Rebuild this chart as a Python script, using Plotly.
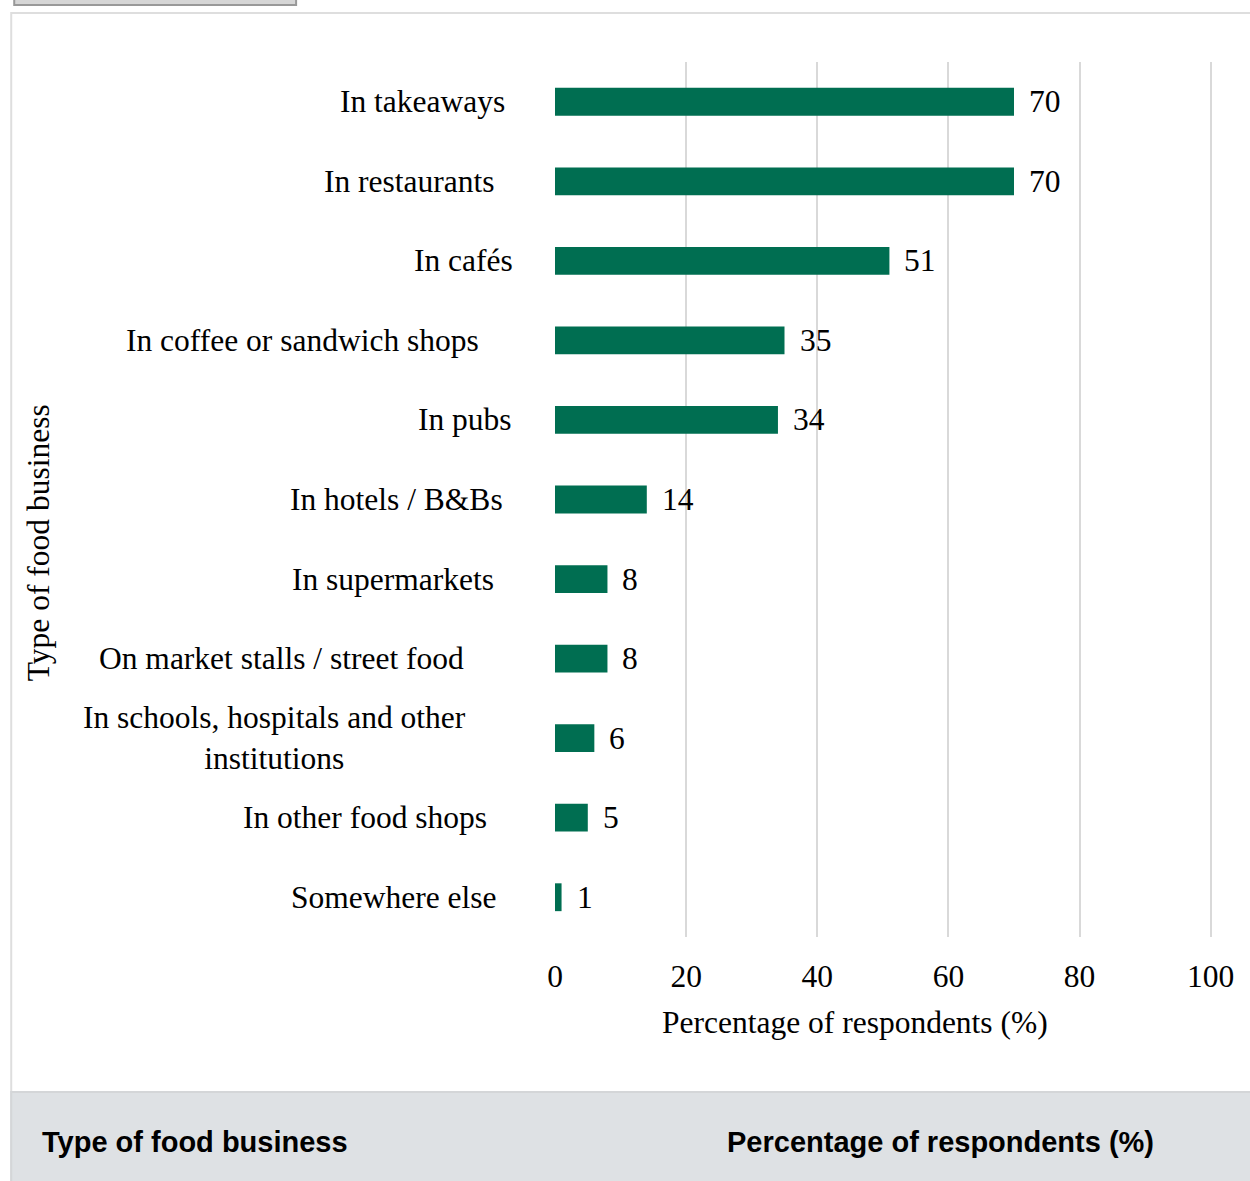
import plotly.graph_objects as go

# Survey results: where respondents bought food
categories = [
    "In takeaways",
    "In restaurants",
    "In cafés",
    "In coffee or sandwich shops",
    "In pubs",
    "In hotels / B&Bs",
    "In supermarkets",
    "On market stalls / street food",
    "In schools, hospitals and other<br>institutions",
    "In other food shops",
    "Somewhere else",
]
percentages = [70, 70, 51, 35, 34, 14, 8, 8, 6, 5, 1]
x_ticks = [0, 20, 40, 60, 80, 100]

x_axis_title = "Percentage of respondents (%)"
y_axis_title = "Type of food business"
table_headers = ["Type of food business", "Percentage of respondents (%)"]

# Canvas and plot-area geometry (pixels); x range padded so the 100 gridline shows
W, H = 1250, 1181
X_MAX = 100.5
PL, PT, PB = 555, 62, 937
PR = PL + 6.56 * X_MAX

# Right edge of each category label, in pixels
label_right = [507, 497, 515, 481, 514, 505, 496, 466, 468, 489, 499]

BAR = "#006e51"
SERIF = "Liberation Serif, Times New Roman, serif"
SANS = "Liberation Sans, Arial, sans-serif"
FS = 31.5


def px_x(px):
    return (px - PL) / (PR - PL)


def px_y(py):
    return (PB - py) / (PB - PT)


fig = go.Figure(
    go.Bar(
        x=percentages,
        y=categories,
        orientation="h",
        marker=dict(color=BAR, line=dict(width=0)),
        width=0.35,
        hoverinfo="x+y",
    )
)

annotations = []
# Value labels beside the bars
for cat, val in zip(categories, percentages):
    annotations.append(dict(
        x=val, y=cat, xref="x", yref="y", text=str(val), showarrow=False,
        xanchor="left", yanchor="middle", xshift=13,
        font=dict(family=SERIF, size=FS, color="#000"),
    ))
# Category labels to the left of the axis
for cat, rx in zip(categories, label_right):
    annotations.append(dict(
        x=px_x(rx), y=cat, xref="paper", yref="y", text=cat, showarrow=False,
        xanchor="right", yanchor="middle", align="center",
        font=dict(family=SERIF, size=FS, color="#000"),
    ))
# Axis titles
annotations.append(dict(
    x=px_x(855), y=px_y(1022), xref="paper", yref="paper", text=x_axis_title,
    showarrow=False, xanchor="center", yanchor="middle",
    font=dict(family=SERIF, size=FS, color="#000"),
))
annotations.append(dict(
    x=px_x(38), y=px_y(543), xref="paper", yref="paper", text=y_axis_title,
    showarrow=False, xanchor="center", yanchor="middle", textangle=-90,
    font=dict(family=SERIF, size=FS, color="#000"),
))
# Table header row below the chart
annotations.append(dict(
    x=px_x(40), y=px_y(1142), xref="paper", yref="paper", text=f"<b>{table_headers[0]}</b>",
    showarrow=False, xanchor="left", yanchor="middle",
    font=dict(family=SANS, size=29, color="#000"),
))
annotations.append(dict(
    x=px_x(725), y=px_y(1142), xref="paper", yref="paper", text=f"<b>{table_headers[1]}</b>",
    showarrow=False, xanchor="left", yanchor="middle",
    font=dict(family=SANS, size=29, color="#000"),
))

shapes = [
    # small button at top-left
    dict(type="rect", xref="paper", yref="paper",
         x0=px_x(14), x1=px_x(296), y0=px_y(-10), y1=px_y(5),
         fillcolor="#d6d6d6", line=dict(color="#999999", width=2), layer="below"),
    # outer chart panel border
    dict(type="rect", xref="paper", yref="paper",
         x0=px_x(11), x1=px_x(1262), y0=px_y(1200), y1=px_y(13),
         fillcolor="rgba(0,0,0,0)", line=dict(color="#dedede", width=2), layer="below"),
    # grey header band
    dict(type="rect", xref="paper", yref="paper",
         x0=px_x(11), x1=px_x(1262), y0=px_y(1200), y1=px_y(1092),
         fillcolor="#dee1e4", line=dict(color="#d4d6d8", width=2), layer="below"),
]

fig.update_layout(
    width=W, height=H,
    margin=dict(l=PL, r=W - PR, t=PT, b=H - PB, pad=0),
    paper_bgcolor="#ffffff", plot_bgcolor="#ffffff",
    showlegend=False,
    bargap=0.65,
    annotations=annotations,
    shapes=shapes,
    font=dict(family=SERIF, size=FS, color="#000"),
)
fig.update_xaxes(
    range=[0, X_MAX], tickvals=x_ticks, ticktext=[str(t) for t in x_ticks],
    showgrid=True, gridcolor="#d9d9d9", gridwidth=2,
    zeroline=False, showline=False,
    ticks="outside", ticklen=11, tickcolor="rgba(0,0,0,0)",
    tickfont=dict(family=SERIF, size=FS, color="#000"),
    fixedrange=True,
)
fig.update_yaxes(
    autorange="reversed", showticklabels=False, showgrid=False,
    zeroline=False, showline=False, fixedrange=True,
)

fig.write_html("out.html")
